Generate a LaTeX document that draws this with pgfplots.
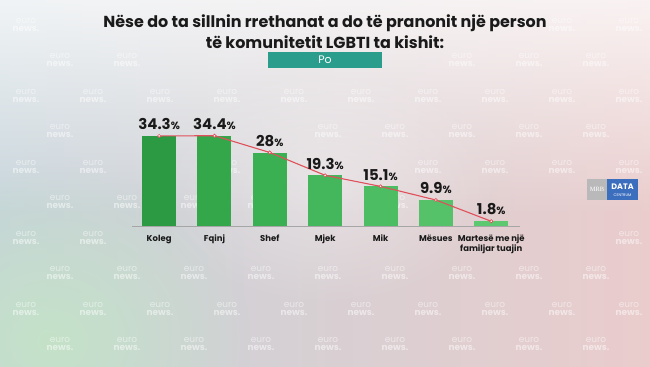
\documentclass[border=0pt]{standalone}
\usepackage{fontspec}
\setmainfont{Poppins}
\newfontfamily\seriffont{Liberation Serif}
\usepackage{pgfplots}
\pgfplotsset{compat=1.18}
\usetikzlibrary{fadings}
\tikzfading[name=myfade, inner color=transparent!0, outer color=transparent!100]
\definecolor{cA}{HTML}{2B9A43}
\definecolor{cB}{HTML}{33A74A}
\definecolor{cC}{HTML}{3BB053}
\definecolor{cD}{HTML}{44B65B}
\definecolor{cE}{HTML}{4CBD63}
\definecolor{cF}{HTML}{55C26A}
\definecolor{cG}{HTML}{5CC870}
\definecolor{lineRed}{HTML}{E0505A}
\definecolor{poTeal}{HTML}{2A9D8C}
\definecolor{bgL}{RGB}{198,211,218}
\definecolor{bgR}{RGB}{234,204,204}
\definecolor{bgG}{RGB}{196,226,200}
\definecolor{txt}{HTML}{1A1A1A}
\definecolor{logoBlue}{HTML}{3C6EBE}
\pgfplotsset{mybar/.style={fill=#1, draw=none,
  nodes near coords={\pgfmathprintnumber[assume math mode=true]{\pgfplotspointmeta}{\fontsize{10.5}{10.5}\selectfont\%}},
  nodes near coords style={font=\bfseries\fontsize{15}{15}\selectfont, text=txt, anchor=south, inner sep=0pt, yshift=6bp}}}
\tikzset{wm/.style={text=white, opacity=0.5, align=center, inner sep=0pt, font=\fontsize{9}{7.5}\selectfont}}
\begin{document}
\begin{tikzpicture}[x=1bp,y=1bp]
\useasboundingbox (0,0) rectangle (650,366);
% background
\shade[left color=bgL, right color=bgR] (0,0) rectangle (650,366);
\fill[bgG, path fading=myfade] (-150,-150) rectangle (250,200);
\fill[white, opacity=0.75, path fading=south] (0,150) rectangle (650,366);
\fill[white, opacity=0.35, path fading=myfade] (150,60) rectangle (500,300);
% watermarks (image coords x, y from top)
\foreach \x/\y in {26/25,562/25,629/25,
  26/96,93/96,160/96,227/96,294/96,361/96,428/96,495/96,562/96,629/96,
  26/167,93/167,160/167,227/167,428/167,495/167,562/167,629/167,
  26/238,93/238,629/238,
  26/309,93/309,160/309,227/309,294/309,361/309,428/309,495/309,562/309,629/309,
  60/60,127/60,462/60,529/60,596/60,
  60/131,328/131,395/131,462/131,529/131,596/131,
  60/202,127/202,194/202,261/202,328/202,395/202,
  60/273,127/273,194/273,261/273,328/273,395/273,462/273,529/273,596/273,
  60/344,127/344,194/344,261/344,328/344,395/344,462/344,529/344,596/344}{
  \node[wm] at (\x,{366-\y}) {euro\\\textbf{news.}};
}
% title
\node[text=txt, font=\bfseries\fontsize{16}{21}\selectfont, anchor=base] at (325,339) {Nëse do ta sillnin rrethanat a do të pranonit një person};
\node[text=txt, font=\bfseries\fontsize{16}{21}\selectfont, anchor=base] at (325,318) {të komunitetit LGBTI ta kishit:};
\fill[poTeal] (268,298) rectangle (382,314);
\node[text=white, font=\fontsize{11}{11}\selectfont] at (325,306) {Po};
% logo
\fill[gray!55] (587,166) rectangle (607,187);
\node[text=white, font=\seriffont\fontsize{6.5}{6.5}\selectfont] at (597,176.5) {MRB};
\fill[logoBlue] (607,166) rectangle (638,187);
\node[text=white, font=\bfseries\fontsize{8}{8}\selectfont, inner sep=0pt] at (622.5,179) {DATA};
\node[text=white, font=\fontsize{3.8}{4}\selectfont, inner sep=0pt] at (622.5,171) {CENTRUM};
\begin{axis}[
  at={(132bp,140bp)}, anchor=south west,
  scale only axis, width=388bp, height=126bp,
  xmin=-0.49, xmax=6.52, ymin=0, ymax=48,
  clip=false,
  axis x line=bottom, axis y line=none,
  x axis line style={-, draw=gray!70, line width=0.8pt},
  ybar, bar width=34bp, bar shift=0pt,
  xtick={0,...,6},
  xticklabels={Koleg,Fqinj,Shef,Mjek,Mik,Mësues,{Martesë me një\\familjar tuajin}},
  xtick style={draw=none},
  x tick label style={font=\bfseries\fontsize{8.5}{10}\selectfont, text=txt, align=center, yshift=-1bp},
  ytick=\empty,
]
\addplot[mybar=cA] coordinates {(0,34.3)};
\addplot[mybar=cB] coordinates {(1,34.4)};
\addplot[mybar=cC] coordinates {(2,28)};
\addplot[mybar=cD] coordinates {(3,19.3)};
\addplot[mybar=cE] coordinates {(4,15.1)};
\addplot[mybar=cF] coordinates {(5,9.9)};
\addplot[mybar=cG] coordinates {(6,1.8)};
\addplot[sharp plot, draw=lineRed, line width=1.1pt, mark=*, mark size=1.6pt, mark options={fill=white, draw=lineRed, line width=0.7pt}] coordinates {(0,34.3) (1,34.4) (2,28) (3,19.3) (4,15.1) (5,9.9) (6,1.8)};
\end{axis}
\end{tikzpicture}
\end{document}
